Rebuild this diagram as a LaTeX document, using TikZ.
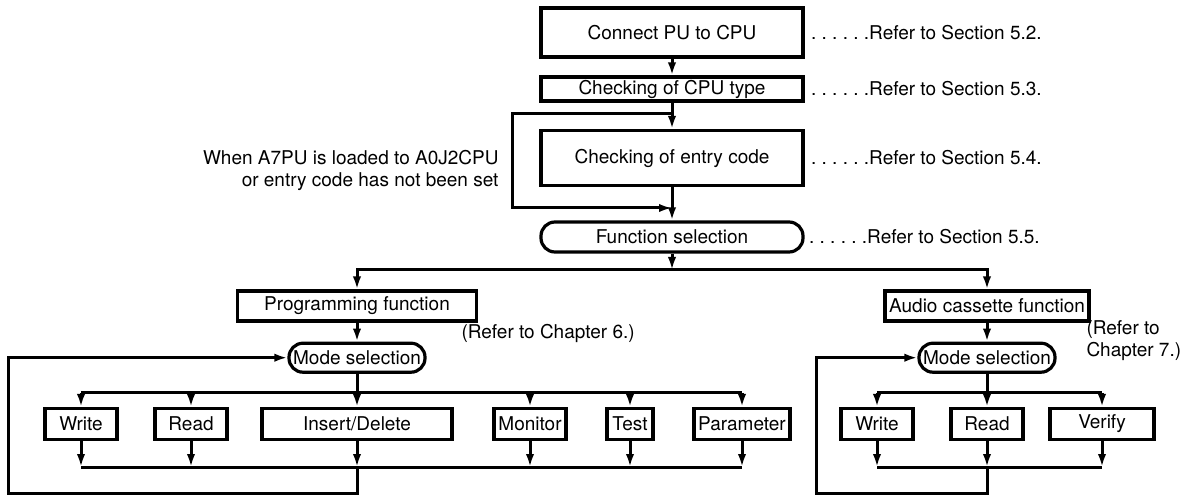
\documentclass[tikz,border=0pt]{standalone}
\usepackage{fontspec}
\setmainfont{TeX Gyre Heros}
\usetikzlibrary{arrows.meta,positioning,calc}

\begin{document}
\begin{tikzpicture}[x=0.5pt, y=-0.5pt, line width=1.5pt, node distance=6pt,
		every node/.style={font=\fontsize{9.5}{11}\selectfont, inner sep=0pt},
		box/.style={draw, line width=1.6pt, minimum height=15.5pt, align=center},
		term/.style={box, rounded corners=7pt, minimum height=14.5pt},
		arr/.style={-{Latex[length=6.5pt,width=4.2pt]}}]
		\useasboundingbox (0,0) rectangle (1184,497);

		\node[box, minimum width=131pt, minimum height=24.5pt] (conn) at (672,32.5) {Connect PU to CPU};
		\node[box, minimum width=131pt, minimum height=12pt] (cpu) at (672,89) {Checking of CPU type};
		\node[box, minimum width=131pt, minimum height=27.5pt] (entry) at (672,158) {Checking of entry code};
		\node[term, minimum width=131pt, minimum height=15pt] (fsel) at (672,237) {Function selection};

		\node[right=2.5pt of conn] (ref2) {.\ .\ .\ .\ .\ .Refer to Section 5.2.};
		\node[right=2.5pt of cpu] (ref3) {.\ .\ .\ .\ .\ .Refer to Section 5.3.};
		\node[right=2.5pt of entry] (ref4) {.\ .\ .\ .\ .\ .Refer to Section 5.4.};
		\node[right=1.5pt of fsel] (ref5) {.\ .\ .\ .\ .\ .Refer to Section 5.5.};
		\node[align=right, anchor=east] (cond) at (500,170) {When A7PU is loaded to A0J2CPU\\or entry code has not been set};

		\coordinate (lpt) at (512,114);
		\coordinate (lpb) at (512,208);
		\coordinate (split) at (672,270);

		\draw[arr] (conn) -- (cpu);
		\draw[arr] (cpu) -- (entry);
		\draw[arr] (cpu.south |- lpt) -- (lpt) -- (lpb) -- (entry.south |- lpb);
		\draw[arr] (entry) -- (fsel);
		\draw[arr] (fsel) -- (split);

		\node[box, minimum width=119.5pt, minimum height=15pt] (pf) at (357,306) {Programming function};
		\node[box, minimum width=102pt, minimum height=15pt] (af) at (987,306) {Audio cassette function};
		\draw[arr] (split) -| (pf);
		\draw[arr] (split) -| (af);

		\node[term, minimum width=68pt, below=9.5pt of pf] (ms1) {Mode selection};
		\node[term, minimum width=68pt, below=9.5pt of af] (ms2) {Mode selection};
		\node[anchor=west] (ch6) at (460,333) {(Refer to Chapter 6.)};
		\node[align=left, anchor=west] (ch7) at (1085,341) {(Refer to\\Chapter 7.)};
		\draw[arr] (pf) -- (ms1);
		\draw[arr] (af) -- (ms2);

		\node[box, minimum width=36pt] (wr1) at (81,424) {Write};
		\node[box, minimum width=36pt] (rd1) at (191,424) {Read};
		\node[box, minimum width=95pt] (ins) at (357,424) {Insert/Delete};
		\node[box, minimum width=36pt] (mon) at (530,424) {Monitor};
		\node[box, minimum width=23pt] (tst) at (630,424) {Test};
		\node[box, minimum width=48pt] (par) at (742,424) {Parameter};
		\node[box, minimum width=36pt] (wr2) at (877,424) {Write};
		\node[box, minimum width=36pt] (rd2) at (987,424) {Read};
		\node[box, minimum width=52pt] (ver) at (1102,424) {Verify};

		\coordinate (d1) at (357,393);
		\coordinate (c1) at (357,467);
		\coordinate (lb1) at (8,493);
		\coordinate (d2) at (987,393);
		\coordinate (c2) at (987,467);
		\coordinate (lb2) at (816,493);

		\draw (ms1) -- (d1);
		\draw (wr1 |- d1) -- (par |- d1);
		\draw (wr1 |- c1) -- (par |- c1);
		\foreach \n in {wr1,rd1,ins,mon,tst,par} {
			\draw[arr] (\n |- d1) -- (\n);
			\draw[arr] (\n) -- (\n |- c1);
		}
		\draw[arr] (c1) -- (c1 |- lb1) -- (lb1) |- (ms1);

		\draw (ms2) -- (d2);
		\draw (wr2 |- d2) -- (ver |- d2);
		\draw (wr2 |- c2) -- (ver |- c2);
		\foreach \n in {wr2,rd2,ver} {
			\draw[arr] (\n |- d2) -- (\n);
			\draw[arr] (\n) -- (\n |- c2);
		}
		\draw[arr] (c2) -- (c2 |- lb2) -- (lb2) |- (ms2);
	\end{tikzpicture}
\end{document}
